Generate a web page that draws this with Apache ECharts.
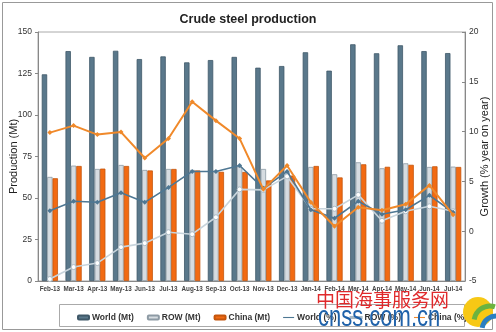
<!DOCTYPE html>
<html><head><meta charset="utf-8">
<script src="https://cdn.jsdelivr.net/npm/echarts@6/dist/echarts.min.js"></script>
<style>html,body{margin:0;padding:0;background:#fff}#c{width:496px;height:332px}</style>
</head><body><div id="c"></div>
<script>
var categories = ['Feb-13','Mar-13','Apr-13','May-13','Jun-13','Jul-13','Aug-13','Sep-13','Oct-13','Nov-13','Dec-13','Jan-14','Feb-14','Mar-14','Apr-14','May-14','Jun-14','Jul-14'];
var worldMt = [124.5,138.5,135,138.7,133.7,135.3,131.7,133.1,135,128.5,129.5,137.8,126.7,142.6,137.2,142,138.5,137.3];
var rowMt   = [62.7,69.5,67.5,69.9,66.9,67.5,66.9,66.3,68.9,67.5,65.8,68.7,64.3,71.5,67.9,70.9,68.7,68.9];
var chinaMt = [61.9,69.3,67.7,69.3,66.6,67.5,66.6,65.8,65.7,60.6,63.5,69.3,62.4,70.3,68.8,70,69.1,68.7];
var worldPct = [2.05,3.0,2.9,3.85,2.9,4.4,6.0,6.0,6.6,4.3,6.0,2.15,1.3,3.0,1.7,2.15,3.6,1.9];
var rowPct   = [-4.8,-3.6,-3.2,-1.6,-1.2,-0.1,-0.3,1.4,4.2,4.15,5.5,2.25,2.25,3.65,1.05,2.0,2.5,2.0];
var chinaPct = [9.9,10.6,9.7,9.95,7.35,9.3,13.0,11.1,9.3,4.2,6.6,2.9,0.5,2.4,2.1,2.7,4.6,1.65];
var leftTicks = {min:0,max:150,interval:25};
var rightTicks = {min:-5,max:20,interval:5};

var chart = echarts.init(document.getElementById('c'), null, {renderer:'canvas'});
var font = 'Liberation Sans, Arial, sans-serif';
chart.setOption({
  animation:false,
  textStyle:{fontFamily:font},
  title:{text:'Crude steel production',left:'center',top:8,textStyle:{fontSize:12.5,fontWeight:'bold',color:'#222',fontFamily:font}},
  grid:{left:38,right:31,top:32,bottom:51,containLabel:false,outerBoundsMode:'none',show:true,borderColor:'#aaa',borderWidth:1,backgroundColor:'#fff'},
  legend:{left:72,top:308,itemWidth:11,itemHeight:4,itemGap:13,
    textStyle:{fontSize:8.5,color:'#333',fontWeight:'bold',padding:[0,0,0,-2]},
    data:[{name:'World (Mt)'},{name:'ROW (Mt)'},{name:'China (Mt)'},{name:'World (%)',icon:'path://M0,2 L10,2 L10,3 L0,3 Z'},{name:'ROW (%)',icon:'path://M0,2 L10,2 L10,3 L0,3 Z'},{name:'China (%)',icon:'path://M0,2 L10,2 L10,3 L0,3 Z'}]},
  xAxis:{type:'category',data:categories,boundaryGap:true,
    axisLine:{show:true,lineStyle:{color:'#888'}},axisTick:{show:false},
    axisLabel:{interval:0,fontSize:6.3,fontWeight:'bold',color:'#444',margin:5}},
  yAxis:[
    {type:'value',min:leftTicks.min,max:leftTicks.max,interval:leftTicks.interval,
     name:'Production (Mt)',nameLocation:'middle',nameGap:19,nameMoveOverlap:false,nameTextStyle:{fontSize:11,color:'#222'},
     axisLine:{show:true,lineStyle:{color:'#888'}},axisTick:{show:true,length:3,lineStyle:{color:'#888'}},
     splitLine:{show:false},axisLabel:{fontSize:8.5,color:'#333',margin:6}},
    {type:'value',min:rightTicks.min,max:rightTicks.max,interval:rightTicks.interval,position:'right',
     name:'Growth (% year on year)',nameLocation:'middle',nameGap:14,nameRotate:90,nameMoveOverlap:false,nameTextStyle:{fontSize:11,color:'#222'},
     axisLine:{show:true,lineStyle:{color:'#888'}},axisTick:{show:true,length:3,inside:true,lineStyle:{color:'#888'}},
     splitLine:{show:false},axisLabel:{fontSize:8.5,color:'#333',margin:4}}
  ],
  series:[
    {name:'World (Mt)',type:'bar',data:worldMt,barWidth:5.4,barGap:'0%',
     itemStyle:{color:'#5a788b',borderColor:'#3f5868',borderWidth:0.8}},
    {name:'ROW (Mt)',type:'bar',data:rowMt,barWidth:5.4,barGap:'0%',
     itemStyle:{color:'#d6dce1',borderColor:'#8d9aa4',borderWidth:0.8}},
    {name:'China (Mt)',type:'bar',data:chinaMt,barWidth:5.4,barGap:'0%',
     itemStyle:{color:'#f26a12',borderColor:'#c4550c',borderWidth:0.8}},
    {name:'World (%)',type:'line',yAxisIndex:1,data:worldPct,z:5,
     lineStyle:{color:'#4e7793',width:1.6},itemStyle:{color:'#4e7793'},symbol:'diamond',symbolSize:5},
    {name:'ROW (%)',type:'line',yAxisIndex:1,data:rowPct,z:4,
     lineStyle:{color:'#c8d4dc',width:1.6},itemStyle:{color:'#fff',borderColor:'#a9b9c4',borderWidth:1},symbol:'circle',symbolSize:5},
    {name:'China (%)',type:'line',yAxisIndex:1,data:chinaPct,z:6,
     lineStyle:{color:'#f0892a',width:2},itemStyle:{color:'#f0892a'},symbol:'diamond',symbolSize:5}
  ],
  graphic:[
    {type:'rect',shape:{x:2.5,y:2.5,width:490,height:327},style:{fill:'none',stroke:'#999',lineWidth:1},z:-10},
    {type:'rect',shape:{x:59.5,y:304.5,width:405,height:22},style:{fill:'none',stroke:'#aaa',lineWidth:1},z:-5},
    {type:'circle',shape:{cx:478,cy:312,r:15},style:{fill:'#f7c815'},z:20},
    {type:'arc',shape:{cx:490,cy:322,r:16,startAngle:Math.PI*1.05,endAngle:Math.PI*1.6},style:{stroke:'#6cb33f',lineWidth:5,fill:'none'},z:21},
    {type:'arc',shape:{cx:496,cy:330,r:14,startAngle:Math.PI*1.05,endAngle:Math.PI*1.6},style:{stroke:'#2a7fc1',lineWidth:5,fill:'none'},z:21},
    {type:'text',x:316,y:290,style:{text:'中国海事服务网',fontSize:19,fill:'#e0292b',fontFamily:'Noto Sans CJK SC'},z:20},
    {type:'text',x:318,y:303,scaleY:1.35,style:{text:'cnss.com.cn',fontSize:22,fill:'#1f62aa',fontFamily:'Liberation Sans'},z:20}
  ]
});
</script></body></html>
